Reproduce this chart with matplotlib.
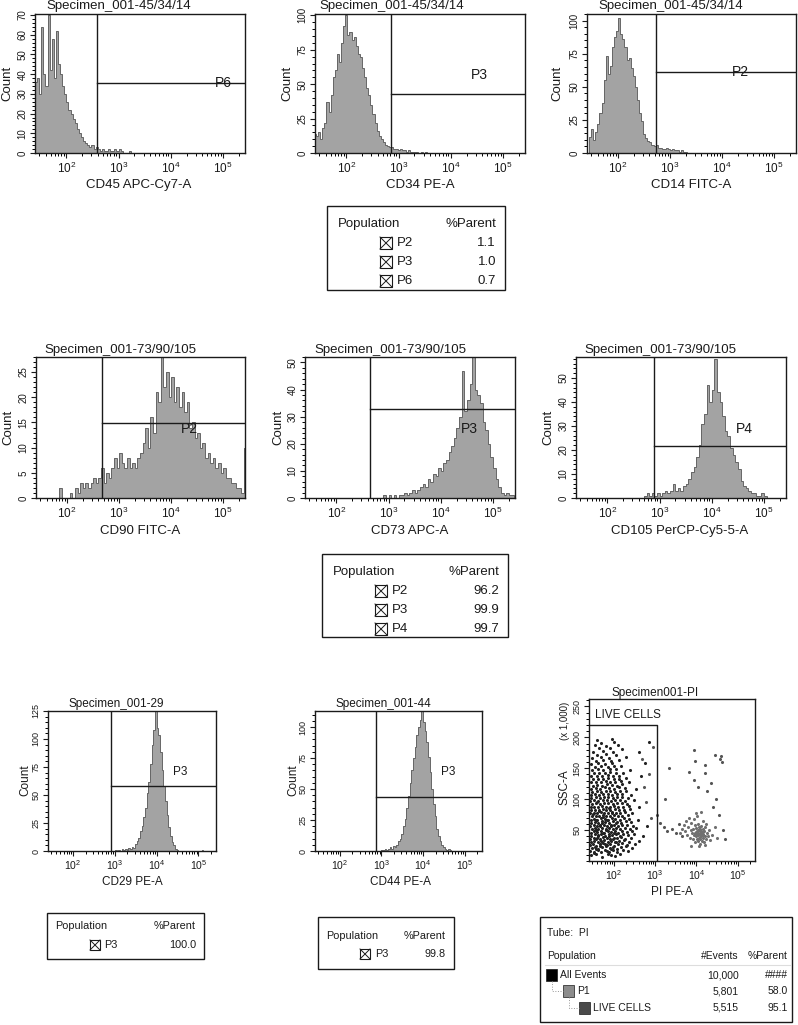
import numpy as np
import matplotlib
matplotlib.use('Agg')
import matplotlib.pyplot as plt
from matplotlib.patches import Rectangle

# --- DATA (x values are log10 of fluorescence, counts per bin) ---
cd45_start, cd45_bw = 1.40, 0.04
cd45_counts = [36, 38, 30, 64, 40, 34, 70, 42, 58, 38, 62, 45, 40, 34, 30, 26, 22, 20, 17, 15,
               12, 10, 8, 6, 5, 4, 3, 4, 2, 3, 2, 1, 2, 1, 1, 2, 1, 1, 2, 1, 2, 1, 0, 0, 0, 1]
cd34_start, cd34_bw = 1.38, 0.04
cd34_counts = [14, 12, 15, 10, 18, 22, 37, 30, 42, 55, 60, 72, 66, 80, 92, 100, 86, 88, 82, 84,
               78, 72, 70, 62, 55, 47, 42, 35, 28, 22, 16, 12, 10, 8, 6, 5, 4, 4, 3, 3,
               2, 3, 2, 2, 1, 2, 1, 1, 1, 1, 0, 1, 0, 1]
cd14_start, cd14_bw = 1.44, 0.04
cd14_counts = [12, 18, 10, 16, 22, 30, 38, 55, 73, 60, 66, 80, 88, 92, 102, 90, 86, 80, 70, 72,
               64, 58, 50, 40, 30, 24, 14, 11, 9, 8, 6, 5, 6, 4, 4, 3, 3, 4, 3, 2,
               3, 2, 2, 1, 2, 1, 1]
cd90_start, cd90_bw = 1.80, 0.05
cd90_counts = [0, 2, 0, 0, 0, 1, 0, 2, 1, 3, 2, 3, 2, 3, 4, 3, 4, 6, 3, 5,
               4, 6, 8, 6, 9, 7, 6, 8, 6, 7, 6, 8, 9, 11, 14, 10, 16, 13, 21, 19,
               28, 22, 25, 20, 24, 19, 22, 18, 21, 17, 19, 14, 15, 12, 13, 10, 11, 8, 9, 7,
               8, 6, 7, 5, 6, 4, 4, 3, 3, 2, 2, 1, 10]
cd73_start, cd73_bw = 2.90, 0.05
cd73_counts = [1, 0, 1, 0, 1, 0, 1, 1, 2, 1, 2, 3, 2, 3, 4, 5, 4, 7, 6, 9,
               8, 11, 10, 13, 14, 17, 19, 22, 26, 30, 47, 32, 36, 42, 52, 40, 38, 35, 28, 25,
               20, 15, 11, 7, 4, 2, 1, 2, 1, 1]
cd105_start, cd105_bw = 2.70, 0.05
cd105_counts = [1, 2, 1, 2, 1, 2, 1, 2, 3, 2, 3, 6, 3, 4, 3, 5, 6, 8, 11, 13,
                17, 22, 31, 35, 47, 40, 45, 58, 44, 40, 34, 28, 26, 21, 18, 15, 12, 7, 5, 4,
                3, 2, 2, 1, 1, 2, 1]
cd29_start, cd29_bw = 3.00, 0.04
cd29_counts = [1, 0, 1, 0, 2, 1, 2, 1, 3, 2, 4, 3, 6, 9, 12, 18, 22, 30, 38, 52,
               62, 78, 95, 108, 125, 110, 104, 88, 72, 58, 45, 32, 21, 13, 8, 5, 2, 1, 0, 0,
               0, 0, 0, 0, 0, 0, 0, 0, 0, 0, 0, 0, 1]
cd44_start, cd44_bw = 3.00, 0.04
cd44_counts = [1, 1, 2, 1, 2, 3, 2, 4, 3, 5, 8, 10, 14, 20, 26, 35, 44, 55, 65, 75,
               84, 94, 100, 106, 113, 104, 97, 88, 76, 64, 50, 38, 28, 18, 12, 8, 5, 3, 2, 1,
               2, 1]

# gates: (log10 threshold, count level)
cd45_gate = (2.58, 35.5)
cd34_gate = (2.86, 43)
cd14_gate = (2.73, 61)
cd90_gate = (2.67, 14.9)
cd73_gate = (2.65, 33)
cd105_gate = (2.90, 21.7)
cd29_gate = (2.90, 58)
cd44_gate = (2.88, 43.5)
live_gate = (3.05, 220)

# PI vs SSC-A (SSC in thousands)
live_pts = [
    (1.45, 9), (1.58, 12), (1.72, 7), (1.85, 11), (2.02, 8), (2.15, 12), (1.51, 13), (1.93, 10),
    (1.43, 16), (1.52, 14), (1.61, 17), (1.69, 15), (1.78, 18), (1.88, 14), (1.97, 17), (2.08, 15),
    (2.22, 18), (2.35, 16), (1.56, 19), (1.83, 16),
    (1.47, 21), (1.55, 23), (1.63, 20), (1.71, 22), (1.80, 24), (1.90, 21), (1.99, 23), (2.07, 20),
    (2.18, 22), (2.30, 24), (2.45, 21), (1.66, 25), (1.94, 19),
    (1.42, 26), (1.50, 28), (1.58, 25), (1.66, 27), (1.74, 29), (1.83, 26), (1.92, 28), (2.01, 25),
    (2.11, 27), (2.20, 29), (2.33, 26), (2.52, 28), (1.78, 27), (2.05, 30),
    (1.45, 31), (1.53, 33), (1.61, 30), (1.68, 32), (1.77, 34), (1.85, 31), (1.94, 33), (2.04, 30),
    (2.13, 32), (2.24, 34), (2.38, 31), (2.60, 33), (1.72, 30), (1.99, 35), (1.57, 35),
    (1.43, 36), (1.51, 38), (1.59, 37), (1.67, 36), (1.75, 39), (1.84, 37), (1.92, 36), (2.00, 38),
    (2.09, 37), (2.17, 39), (2.28, 36), (2.41, 38), (1.88, 40), (1.63, 40),
    (1.46, 41), (1.54, 43), (1.62, 42), (1.70, 44), (1.79, 41), (1.88, 43), (1.96, 42), (2.05, 44),
    (2.14, 41), (2.23, 43), (2.35, 42), (2.48, 44), (2.70, 41), (1.74, 45), (2.00, 46),
    (1.44, 46), (1.52, 48), (1.60, 47), (1.68, 49), (1.76, 46), (1.85, 48), (1.94, 47), (2.02, 49),
    (2.11, 46), (2.20, 48), (2.31, 47), (2.44, 49), (1.81, 50), (1.57, 50),
    (1.47, 51), (1.55, 53), (1.63, 52), (1.72, 54), (1.80, 51), (1.89, 53), (1.97, 52), (2.06, 54),
    (2.16, 51), (2.26, 53), (2.39, 52), (2.55, 54), (1.67, 56), (1.93, 56),
    (1.43, 56), (1.51, 58), (1.59, 57), (1.67, 59), (1.76, 58), (1.84, 57), (1.93, 59), (2.01, 58),
    (2.10, 57), (2.21, 59), (2.33, 58), (2.47, 57), (2.80, 56), (1.71, 61), (2.05, 61),
    (1.46, 62), (1.54, 63), (1.63, 62), (1.71, 64), (1.79, 63), (1.88, 62), (1.97, 64), (2.07, 63),
    (2.17, 62), (2.29, 64), (2.42, 63), (1.58, 66), (1.84, 66),
    (1.44, 67), (1.52, 68), (1.60, 67), (1.69, 69), (1.78, 68), (1.86, 67), (1.95, 69), (2.04, 68),
    (2.14, 67), (2.25, 69), (2.38, 68), (2.58, 67), (1.74, 71),
    (1.47, 72), (1.56, 73), (1.65, 72), (1.73, 74), (1.82, 73), (1.91, 72), (2.00, 74), (2.10, 73),
    (2.21, 72), (2.34, 74), (1.50, 76), (1.96, 77),
    (1.43, 77), (1.51, 78), (1.60, 77), (1.69, 79), (1.77, 78), (1.86, 77), (1.95, 79), (2.05, 78),
    (2.16, 77), (2.28, 79), (2.45, 78), (1.65, 81),
    (1.46, 82), (1.55, 83), (1.64, 82), (1.73, 84), (1.82, 83), (1.92, 82), (2.02, 84), (2.13, 83),
    (2.25, 82), (2.40, 84), (1.88, 86),
    (1.44, 87), (1.53, 88), (1.62, 87), (1.71, 89), (1.80, 88), (1.90, 87), (2.00, 89), (2.11, 88),
    (2.23, 87), (2.36, 89), (2.62, 88),
    (1.47, 92), (1.57, 93), (1.67, 92), (1.77, 94), (1.87, 93), (1.97, 92), (2.08, 94), (2.19, 93),
    (2.32, 92), (1.60, 96),
    (1.43, 97), (1.53, 98), (1.63, 97), (1.73, 99), (1.83, 98), (1.93, 97), (2.04, 99), (2.15, 98),
    (2.28, 97), (2.50, 99),
    (1.46, 102), (1.56, 103), (1.66, 102), (1.76, 104), (1.86, 103), (1.97, 102), (2.08, 104),
    (2.20, 103), (2.35, 102),
    (1.44, 107), (1.54, 108), (1.65, 107), (1.75, 109), (1.85, 108), (1.96, 107), (2.07, 109),
    (2.19, 108), (2.42, 107),
    (1.48, 112), (1.59, 113), (1.70, 112), (1.81, 114), (1.92, 113), (2.03, 112), (2.15, 114), (2.30, 113),
    (1.45, 117), (1.56, 118), (1.67, 117), (1.78, 119), (1.89, 118), (2.00, 117), (2.12, 119),
    (2.26, 118), (2.55, 117),
    (1.49, 122), (1.60, 123), (1.71, 122), (1.83, 124), (1.95, 123), (2.07, 122), (2.21, 124),
    (1.44, 127), (1.56, 128), (1.68, 127), (1.80, 129), (1.92, 128), (2.04, 127), (2.17, 129), (2.38, 128),
    (1.50, 132), (1.62, 133), (1.74, 132), (1.87, 134), (2.00, 133), (2.13, 132), (2.30, 134),
    (1.46, 137), (1.59, 138), (1.72, 137), (1.85, 139), (1.98, 138), (2.12, 137), (2.65, 138),
    (1.52, 142), (1.65, 143), (1.78, 142), (1.92, 144), (2.06, 143), (2.22, 142),
    (1.47, 147), (1.61, 148), (1.75, 147), (1.90, 149), (2.05, 148), (2.40, 147),
    (1.55, 152), (1.70, 153), (1.85, 152), (2.00, 154), (2.18, 153),
    (1.45, 157), (1.62, 158), (1.79, 157), (1.96, 159), (2.75, 158),
    (1.58, 162), (1.75, 163), (1.93, 162), (2.12, 164),
    (1.48, 167), (1.68, 168), (1.88, 167), (2.30, 169),
    (1.60, 172), (1.82, 173), (2.05, 172),
    (1.50, 177), (1.74, 178), (1.98, 177), (2.60, 176),
    (1.65, 182), (1.90, 183), (2.20, 181),
    (1.55, 187), (1.82, 186), (2.10, 188),
    (1.70, 191), (2.00, 193), (2.85, 192),
    (1.60, 196), (1.95, 197),
]
sparse_pts = [
    (2.68, 165), (2.72, 120), (2.78, 95), (2.90, 70), (3.05, 75), (3.12, 62), (3.22, 55), (3.30, 48),
    (3.34, 150), (3.42, 52), (3.50, 45), (3.58, 60), (3.66, 40), (3.83, 144), (3.95, 180), (3.97, 162),
    (3.95, 131), (4.05, 119), (4.20, 155), (4.22, 143), (4.25, 113), (4.35, 126), (4.46, 172),
    (4.58, 165), (4.62, 160), (4.60, 170), (4.48, 100), (4.40, 88), (4.55, 75), (4.65, 50),
    (4.70, 35), (3.25, 100), (2.95, 185), (2.85, 140),
]
dead_pts = [
    (3.72, 48), (3.78, 42), (3.80, 55), (3.84, 38), (3.86, 50), (3.88, 62), (3.90, 45), (3.92, 35),
    (3.93, 52), (3.95, 42), (3.96, 58), (3.97, 30), (3.98, 47), (4.00, 40), (4.00, 53), (4.01, 36),
    (4.02, 45), (4.03, 60), (4.04, 32), (4.05, 48), (4.05, 42), (4.06, 55), (4.07, 38), (4.08, 46),
    (4.08, 28), (4.09, 51), (4.10, 43), (4.10, 35), (4.11, 57), (4.12, 40), (4.12, 48), (4.13, 33),
    (4.14, 45), (4.15, 52), (4.16, 38), (4.17, 44), (4.18, 30), (4.19, 49), (4.20, 41), (4.22, 55),
    (4.23, 36), (4.25, 46), (4.27, 40), (4.30, 50), (4.33, 34), (3.75, 65), (3.82, 70), (3.94, 68),
    (4.02, 72), (4.15, 64), (4.24, 60), (3.70, 58), (3.88, 25), (4.06, 24), (4.21, 26), (3.60, 45),
    (3.65, 52), (4.38, 42), (4.45, 55), (4.50, 38), (3.98, 78), (4.11, 80), (3.99, 44), (4.04, 50),
    (4.09, 39), (4.13, 47), (4.07, 43), (4.01, 49), (4.16, 42), (3.96, 46),
]

# population tables
tbl1_pops, tbl1_vals = ['P2', 'P3', 'P6'], ['1.1', '1.0', '0.7']
tbl2_pops, tbl2_vals = ['P2', 'P3', 'P4'], ['96.2', '99.9', '99.7']
tbl29_pops, tbl29_vals = ['P3'], ['100.0']
tbl44_pops, tbl44_vals = ['P3'], ['99.8']
pi_pops = ['All Events', 'P1', 'LIVE CELLS']
pi_events = ['10,000', '5,801', '5,515']
pi_parent = ['####', '58.0', '95.1']
pi_colors = ['#000000', '#8c8c8c', '#4a4a4a']

# --- LAYOUT / STYLE ---
W, H = 798, 1025
plt.rcParams['font.family'] = ['Liberation Sans', 'DejaVu Sans']
plt.rcParams['mathtext.fontset'] = 'custom'
plt.rcParams['mathtext.rm'] = 'Liberation Sans'
plt.rcParams['mathtext.it'] = 'Liberation Sans'
INK = '#1a1a1a'
XLIM = (1.40, 5.42)

fig = plt.figure(figsize=(W / 100, H / 100), dpi=100)
ov = fig.add_axes([0, 0, 1, 1])
ov.set_xlim(0, W); ov.set_ylim(H, 0); ov.axis('off')


def px_rect(x0, y0, x1, y1):
    return [x0 / W, 1 - y1 / H, (x1 - x0) / W, (y1 - y0) / H]


def style_axes(ax, ylim, ymaj, ymin, fs_x, fs_y, yticks_from=0):
    ax.set_xlim(*XLIM)
    ax.set_ylim(0, ylim)
    majors = [2, 3, 4, 5]
    ax.set_xticks(majors)
    ax.set_xticklabels([f'$10^{{{m}}}$' for m in majors])
    minors = [np.log10(k * 10.0 ** n) for n in range(1, 6) for k in range(2, 10)]
    ax.set_xticks([m for m in minors if XLIM[0] <= m <= XLIM[1]], minor=True)
    ax.set_yticks(np.arange(yticks_from, ylim + 0.01, ymaj))
    ax.set_yticks(np.arange(0, ylim + 0.01, ymin), minor=True)
    ax.tick_params(axis='both', which='major', length=3.5, width=0.8, pad=2, colors=INK)
    ax.tick_params(axis='x', labelsize=fs_x)
    ax.tick_params(axis='y', labelsize=fs_y, labelrotation=90)
    ax.tick_params(axis='both', which='minor', length=2.5, width=0.7)
    for lab in ax.get_yticklabels():
        lab.set_va('center')
    for s in ax.spines.values():
        s.set_linewidth(1.0); s.set_color(INK)


def histogram(rect, counts, start, bw, ylim, ymaj, ymin, gate, name, name_xy, fs_x, fs_y, fs_name):
    ax = fig.add_axes(px_rect(*rect))
    edges = start + bw * np.arange(len(counts) + 1)
    ax.stairs(counts, edges, fill=True, color='#a3a3a3', lw=0)
    ax.stairs(counts, edges, color='#666666', lw=0.7)
    gx, gy = gate
    ax.axvline(gx, color=INK, lw=1.0)
    ax.plot([gx, XLIM[1]], [gy, gy], color=INK, lw=1.0)
    ax.text(name_xy[0], name_xy[1], name, fontsize=fs_name, ha='center', va='center', color=INK)
    style_axes(ax, ylim, ymaj, ymin, fs_x, fs_y)
    return ax


def checkbox(cx, cy, size):
    x0, y0 = cx - size / 2, cy - size / 2
    ov.add_patch(Rectangle((x0, y0), size, size, fill=False, lw=0.8, ec=INK))
    ov.plot([x0, x0 + size], [y0, y0 + size], color=INK, lw=0.7)
    ov.plot([x0, x0 + size], [y0 + size, y0], color=INK, lw=0.7)


def pop_table(box, text_l, right, header_y, dy, cb_x, lab_x, cb, fs, pops, vals):
    x0, y0, x1, y1 = box
    ov.add_patch(Rectangle((x0, y0), x1 - x0, y1 - y0, fill=False, lw=1.0, ec=INK))
    ov.text(text_l, header_y, 'Population', fontsize=fs, ha='left', va='center', color=INK)
    ov.text(right, header_y, '%Parent', fontsize=fs, ha='right', va='center', color=INK)
    for i, (p, v) in enumerate(zip(pops, vals)):
        y = header_y + dy * (i + 1)
        checkbox(cb_x, y, cb)
        ov.text(lab_x, y, p, fontsize=fs, ha='left', va='center', color=INK)
        ov.text(right, y, v, fontsize=fs, ha='right', va='center', color=INK)


def label(x, y, s, fs, rot=0):
    ov.text(x, y, s, fontsize=fs, ha='center', va='center', rotation=rot, color=INK)


# --- ROW 1 ---
histogram((35, 14, 245, 153), cd45_counts, cd45_start, cd45_bw, 70.5, 10, 2,
          cd45_gate, 'P6', (5.0, cd45_gate[1]), 8.5, 7, 10)
histogram((315, 14, 525, 153), cd34_counts, cd34_start, cd34_bw, 101, 25, 5,
          cd34_gate, 'P3', (4.55, 56.5), 8.5, 7, 10)
histogram((587, 14, 796, 153), cd14_counts, cd14_start, cd14_bw, 105, 25, 5,
          cd14_gate, 'P2', (4.35, cd14_gate[1]), 8.5, 7, 10)
for cx, t in [(119, 'Specimen_001-45/34/14'), (392, 'Specimen_001-45/34/14'), (671, 'Specimen_001-45/34/14')]:
    label(cx, 6, t, 9.5)
for cx, t in [(139, 'CD45 APC-Cy7-A'), (420, 'CD34 PE-A'), (691, 'CD14 FITC-A')]:
    label(cx, 185, t, 9.5)
for cx in [7, 287, 557]:
    label(cx, 83, 'Count', 9.5, 90)
pop_table((327, 206, 505, 290), 338, 496, 224, 19, 386, 397, 12, 9.5, tbl1_pops, tbl1_vals)

# --- ROW 2 ---
histogram((36, 357, 245, 498), cd90_counts, cd90_start, cd90_bw, 28, 5, 1,
          cd90_gate, 'P2', (4.35, 13.7), 8.5, 7, 10)
histogram((305, 357, 515, 498), cd73_counts, cd73_start, cd73_bw, 52, 10, 2,
          cd73_gate, 'P3', (4.54, 25.5), 8.5, 7, 10)
histogram((576, 357, 786, 498), cd105_counts, cd105_start, cd105_bw, 58.75, 10, 2,
          cd105_gate, 'P4', (4.62, 28.7), 8.5, 7, 10)
for cx, t in [(120, 'Specimen_001-73/90/105'), (390, 'Specimen_001-73/90/105'), (660, 'Specimen_001-73/90/105')]:
    label(cx, 350, t, 9.5)
for cx, t in [(140, 'CD90 FITC-A'), (410, 'CD73 APC-A'), (680, 'CD105 PerCP-Cy5-5-A')]:
    label(cx, 531, t, 9.5)
for cx in [8, 278, 548]:
    label(cx, 427, 'Count', 9.5, 90)
pop_table((322, 554, 508, 637), 333, 499, 572, 19, 381, 392, 12, 9.5, tbl2_pops, tbl2_vals)

# --- ROW 3 ---
histogram((48, 711, 216, 851), cd29_counts, cd29_start, cd29_bw, 125, 25, 5,
          cd29_gate, 'P3', (4.57, 70.5), 7.5, 6.5, 8.5)
histogram((315, 711, 482, 851), cd44_counts, cd44_start, cd44_bw, 113, 25, 5,
          cd44_gate, 'P3', (4.60, 63.7), 7.5, 6.5, 8.5)
label(116, 704, 'Specimen_001-29', 8.5)
label(383, 704, 'Specimen_001-44', 8.5)
label(132, 882, 'CD29 PE-A', 8.5)
label(400, 882, 'CD44 PE-A', 8.5)
label(25, 780, 'Count', 8.5, 90)
label(293, 780, 'Count', 8.5, 90)
pop_table((47, 913, 204, 959), 55, 196, 926, 19, 95, 104, 10, 7.8, tbl29_pops, tbl29_vals)
pop_table((318, 917, 454, 969), 326, 446, 936, 18, 365, 375, 10, 7.8, tbl44_pops, tbl44_vals)

# PI scatter
ax9 = fig.add_axes(px_rect(589, 699, 755, 861))
for pts, col in [(live_pts, '#222222'), (sparse_pts, '#555555'), (dead_pts, '#707070')]:
    xs, ys = zip(*pts)
    ax9.scatter(xs, ys, s=5, marker='o', color=col, linewidths=0)
gx, gy = live_gate
ax9.plot([XLIM[0], gx, gx], [gy, gy, 0], color=INK, lw=1.0)
ax9.text(1.55, 236, 'LIVE CELLS', fontsize=8.5, ha='left', va='center', color=INK)
style_axes(ax9, 262, 50, 10, 7.5, 6.5, yticks_from=50)
label(655, 693, 'Specimen001-PI', 8.5)
label(672, 892, 'PI PE-A', 8.5)
label(565, 787, 'SSC-A', 8.5, 90)
label(565, 721, '(x 1,000)', 7, 90)

# PI table
ov.add_patch(Rectangle((540, 917), 252, 105, fill=False, lw=1.0, ec=INK))
ov.text(547, 933, 'Tube:  PI', fontsize=7.5, ha='left', va='center', color=INK)
ov.text(547, 956, 'Population', fontsize=7.5, ha='left', va='center', color=INK)
ov.text(739, 956, '#Events', fontsize=7.5, ha='right', va='center', color=INK)
ov.text(788, 956, '%Parent', fontsize=7.5, ha='right', va='center', color=INK)
ov.plot([545, 790], [965, 965], color='#dddddd', lw=0.8)
row_y = [975, 991, 1008]
sq_x = [546, 563, 579]
for i, (p, e, v, c) in enumerate(zip(pi_pops, pi_events, pi_parent, pi_colors)):
    y = row_y[i]
    ov.add_patch(Rectangle((sq_x[i], y - 6), 11, 12, color=c, ec=INK, lw=0.5))
    ov.text(sq_x[i] + 14, y, p, fontsize=7.5, ha='left', va='center', color=INK)
    ov.text(739, y, e, fontsize=7.5, ha='right', va='center', color=INK)
    ov.text(788, y, v, fontsize=7.5, ha='right', va='center', color=INK)
    if i > 0:
        px = sq_x[i - 1] + 5.5
        ov.plot([px, px, sq_x[i]], [row_y[i - 1] + 6, y, y], color='#999999', lw=0.7, ls=':')

fig.savefig('out.png', dpi=100, facecolor='white')
